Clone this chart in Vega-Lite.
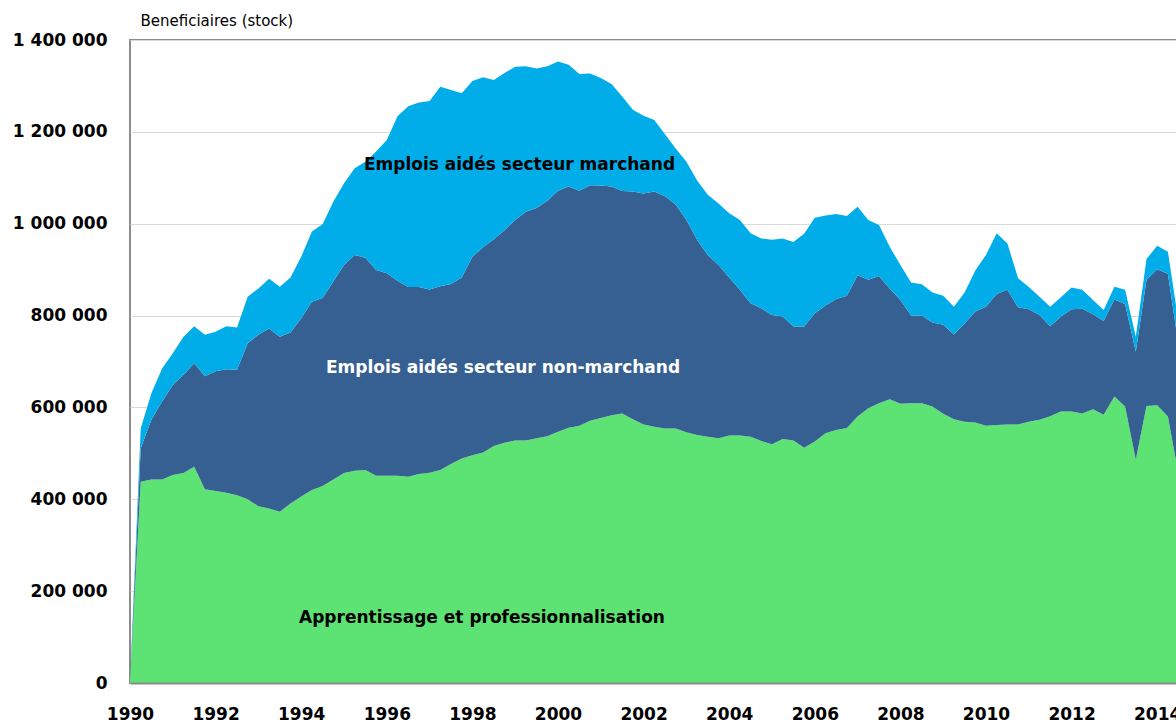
{
  "$schema": "https://vega.github.io/schema/vega-lite/v6.json",
  "autosize": {"type": "none"},
  "padding": {"left": 130, "top": 40, "right": 0, "bottom": 40},
  "width": 1048,
  "height": 643,
  "background": "white",
  "config": {
    "view": {"stroke": "#8c8c8c", "strokeWidth": 2},
    "font": "DejaVu Sans",
    "locale": {"number": {"decimal": ",", "thousands": " ", "grouping": [3], "currency": ["", " €"]}}
  },
  "layer": [
    {
      "data": {"values": [
        {"t":1990,"a":0,"b":0,"c":0},
        {"t":1990.25,"a":438000,"b":73000,"c":43000},
        {"t":1990.5,"a":443000,"b":130000,"c":58000},
        {"t":1990.75,"a":443000,"b":170000,"c":72000},
        {"t":1991,"a":453000,"b":196000,"c":69000},
        {"t":1991.25,"a":457000,"b":214000,"c":83000},
        {"t":1991.5,"a":471000,"b":225000,"c":81000},
        {"t":1991.75,"a":422000,"b":246000,"c":90000},
        {"t":1992,"a":418000,"b":261000,"c":86000},
        {"t":1992.25,"a":414000,"b":269000,"c":94000},
        {"t":1992.5,"a":409000,"b":273000,"c":92000},
        {"t":1992.75,"a":400000,"b":340000,"c":101000},
        {"t":1993,"a":385000,"b":373000,"c":101000},
        {"t":1993.25,"a":380000,"b":392000,"c":108000},
        {"t":1993.5,"a":373000,"b":381000,"c":109000},
        {"t":1993.75,"a":391000,"b":372000,"c":120000},
        {"t":1994,"a":406000,"b":388000,"c":134000},
        {"t":1994.25,"a":420000,"b":410000,"c":153000},
        {"t":1994.5,"a":429000,"b":409000,"c":161000},
        {"t":1994.75,"a":443000,"b":431000,"c":174000},
        {"t":1995,"a":457000,"b":453000,"c":178000},
        {"t":1995.25,"a":462000,"b":470000,"c":189000},
        {"t":1995.5,"a":464000,"b":462000,"c":209000},
        {"t":1995.75,"a":451000,"b":448000,"c":258000},
        {"t":1996,"a":451000,"b":441000,"c":290000},
        {"t":1996.25,"a":451000,"b":425000,"c":358000},
        {"t":1996.5,"a":449000,"b":413000,"c":394000},
        {"t":1996.75,"a":455000,"b":407000,"c":402000},
        {"t":1997,"a":458000,"b":399000,"c":410000},
        {"t":1997.25,"a":464000,"b":400000,"c":434000},
        {"t":1997.5,"a":477000,"b":392000,"c":422000},
        {"t":1997.75,"a":489000,"b":394000,"c":401000},
        {"t":1998,"a":496000,"b":432000,"c":383000},
        {"t":1998.25,"a":502000,"b":447000,"c":370000},
        {"t":1998.5,"a":516000,"b":450000,"c":347000},
        {"t":1998.75,"a":523000,"b":463000,"c":342000},
        {"t":1999,"a":528000,"b":480000,"c":334000},
        {"t":1999.25,"a":528000,"b":498000,"c":317000},
        {"t":1999.5,"a":533000,"b":501000,"c":304000},
        {"t":1999.75,"a":537000,"b":513000,"c":293000},
        {"t":2000,"a":547000,"b":525000,"c":281000},
        {"t":2000.25,"a":556000,"b":525000,"c":265000},
        {"t":2000.5,"a":560000,"b":512000,"c":254000},
        {"t":2000.75,"a":571000,"b":513000,"c":243000},
        {"t":2001,"a":577000,"b":506000,"c":234000},
        {"t":2001.25,"a":583000,"b":498000,"c":223000},
        {"t":2001.5,"a":587000,"b":484000,"c":206000},
        {"t":2001.75,"a":574000,"b":496000,"c":178000},
        {"t":2002,"a":563000,"b":503000,"c":169000},
        {"t":2002.25,"a":558000,"b":512000,"c":156000},
        {"t":2002.5,"a":554000,"b":506000,"c":135000},
        {"t":2002.75,"a":554000,"b":488000,"c":122000},
        {"t":2003,"a":546000,"b":462000,"c":127000},
        {"t":2003.25,"a":540000,"b":425000,"c":129000},
        {"t":2003.5,"a":536000,"b":396000,"c":131000},
        {"t":2003.75,"a":533000,"b":377000,"c":134000},
        {"t":2004,"a":539000,"b":344000,"c":140000},
        {"t":2004.25,"a":539000,"b":317000,"c":152000},
        {"t":2004.5,"a":536000,"b":291000,"c":152000},
        {"t":2004.75,"a":527000,"b":289000,"c":152000},
        {"t":2005,"a":520000,"b":281000,"c":164000},
        {"t":2005.25,"a":531000,"b":267000,"c":170000},
        {"t":2005.5,"a":528000,"b":248000,"c":184000},
        {"t":2005.75,"a":512000,"b":264000,"c":202000},
        {"t":2006,"a":526000,"b":279000,"c":208000},
        {"t":2006.25,"a":544000,"b":278000,"c":196000},
        {"t":2006.5,"a":551000,"b":285000,"c":185000},
        {"t":2006.75,"a":555000,"b":288000,"c":174000},
        {"t":2007,"a":580000,"b":308000,"c":149000},
        {"t":2007.25,"a":598000,"b":280000,"c":130000},
        {"t":2007.5,"a":609000,"b":277000,"c":111000},
        {"t":2007.75,"a":618000,"b":241000,"c":91000},
        {"t":2008,"a":608000,"b":226000,"c":76000},
        {"t":2008.25,"a":609000,"b":191000,"c":72000},
        {"t":2008.5,"a":609000,"b":191000,"c":68000},
        {"t":2008.75,"a":602000,"b":183000,"c":65000},
        {"t":2009,"a":586000,"b":194000,"c":63000},
        {"t":2009.25,"a":574000,"b":185000,"c":60000},
        {"t":2009.5,"a":569000,"b":214000,"c":67000},
        {"t":2009.75,"a":567000,"b":242000,"c":89000},
        {"t":2010,"a":560000,"b":259000,"c":113000},
        {"t":2010.25,"a":562000,"b":285000,"c":132000},
        {"t":2010.5,"a":563000,"b":293000,"c":101000},
        {"t":2010.75,"a":563000,"b":255000,"c":63000},
        {"t":2011,"a":569000,"b":245000,"c":48000},
        {"t":2011.25,"a":573000,"b":228000,"c":40000},
        {"t":2011.5,"a":581000,"b":196000,"c":42000},
        {"t":2011.75,"a":591000,"b":207000,"c":42000},
        {"t":2012,"a":591000,"b":223000,"c":47000},
        {"t":2012.25,"a":587000,"b":228000,"c":41000},
        {"t":2012.5,"a":596000,"b":207000,"c":31000},
        {"t":2012.75,"a":584000,"b":204000,"c":24000},
        {"t":2013,"a":624000,"b":211000,"c":28000},
        {"t":2013.25,"a":602000,"b":223000,"c":31000},
        {"t":2013.5,"a":486000,"b":235000,"c":33000},
        {"t":2013.75,"a":603000,"b":275000,"c":45000},
        {"t":2014,"a":605000,"b":296000,"c":51000},
        {"t":2014.25,"a":580000,"b":311000,"c":48000},
        {"t":2014.5,"a":453000,"b":282000,"c":50000}
      ]},
      "transform": [{"fold": ["a", "b", "c"], "as": ["serie", "value"]}],
      "mark": {"type": "area", "clip": true},
      "encoding": {
        "x": {
          "field": "t", "type": "quantitative",
          "scale": {"domain": [1990, 2014.486], "nice": false, "zero": false},
          "axis": {
            "values": [1990, 1992, 1994, 1996, 1998, 2000, 2002, 2004, 2006, 2008, 2010, 2012, 2014],
            "format": "d", "title": null, "grid": false, "ticks": false,
            "domain": true, "domainColor": "#8c8c8c", "domainWidth": 2, "zindex": 1,
            "labelFont": "DejaVu Sans", "labelFontWeight": "bold", "labelFontSize": 17,
            "labelColor": "#000000", "labelPadding": 23, "labelFlush": false,
            "labelOverlap": false, "labelBound": false
          }
        },
        "y": {
          "field": "value", "type": "quantitative", "stack": "zero",
          "scale": {"domain": [0, 1400000], "nice": false},
          "axis": {
            "values": [0, 200000, 400000, 600000, 800000, 1000000, 1200000, 1400000],
            "format": ",d", "grid": true, "gridColor": "#d9d9d9", "gridWidth": 1,
            "ticks": false, "domain": false,
            "labelFont": "DejaVu Sans", "labelFontWeight": "bold", "labelFontSize": 17,
            "labelColor": "#000000", "labelPadding": 23, "labelFlush": false, "labelOverlap": false,
            "title": "Beneficiaires (stock)", "titleAngle": 0, "titleAlign": "left",
            "titleBaseline": "alphabetic", "titleX": 10, "titleY": -15,
            "titleFont": "DejaVu Sans", "titleFontWeight": "normal", "titleFontSize": 15,
            "titleColor": "#000000"
          }
        },
        "color": {
          "field": "serie", "type": "nominal",
          "scale": {"domain": ["a", "b", "c"], "range": ["#5de274", "#376092", "#00ade8"]},
          "legend": null
        },
        "order": {"field": "serie", "type": "nominal", "sort": "ascending"}
      }
    },
    {
      "data": {"values": [
        {"label": "Emplois aidés secteur marchand", "t": 1999.1, "value": 1128000},
        {"label": "Emplois aidés secteur non-marchand", "t": 1998.715, "value": 686000},
        {"label": "Apprentissage et professionnalisation", "t": 1998.224, "value": 141500}
      ]},
      "mark": {"type": "text", "font": "DejaVu Sans", "fontWeight": "bold", "fontSize": 17, "align": "center", "baseline": "middle"},
      "encoding": {
        "x": {"field": "t", "type": "quantitative"},
        "y": {"field": "value", "type": "quantitative", "title": "Beneficiaires (stock)"},
        "text": {"field": "label", "type": "nominal"},
        "color": {
          "field": "label", "type": "nominal",
          "scale": {"domain": ["Emplois aidés secteur marchand", "Emplois aidés secteur non-marchand", "Apprentissage et professionnalisation"], "range": ["#000000", "#ffffff", "#000000"]},
          "legend": null
        }
      }
    }
  ],
  "resolve": {"scale": {"color": "independent"}}
}
